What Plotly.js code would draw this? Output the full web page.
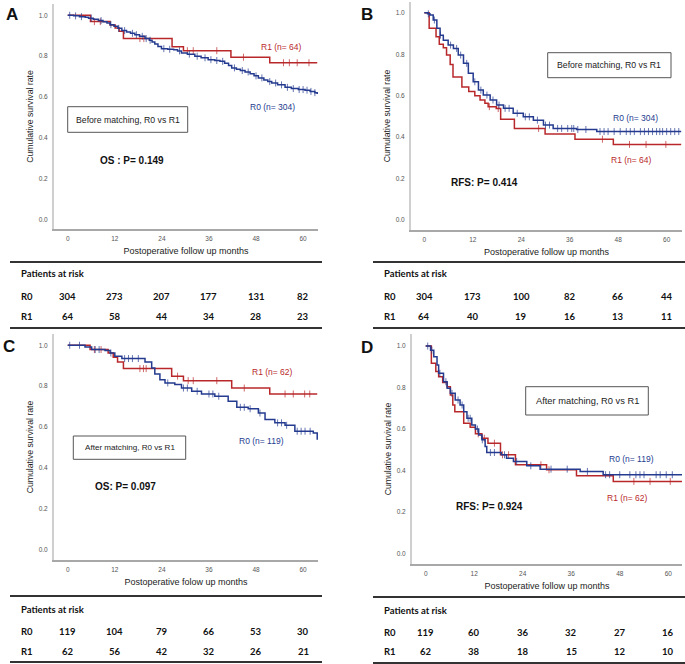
<!DOCTYPE html>
<html><head><meta charset="utf-8">
<script src="https://cdn.plot.ly/plotly-3.0.1.min.js"></script>
<style>html,body{margin:0;padding:0;background:#fff}#chart{width:685px;height:664px}</style>
</head><body><div id="chart"></div>
<script>
// ---------- DATA ----------
const monthTicks = [0, 12, 24, 36, 48, 60];
const survTicks = [0, 0.2, 0.4, 0.6, 0.8, 1.0];

// Panel A: OS before matching
const A_R0_t = [0, 1.5, 3, 4.5, 5.3, 6.5, 7.8, 9, 10, 10.8, 11.8, 12.8, 13.8, 15, 16, 17.1, 18.3, 19.7, 20.8, 21.5, 22.2, 23, 23.9, 25.5, 27, 28, 29, 30.5, 32.4, 34, 35.8, 37.5, 38.8, 40, 41, 41.8, 43, 44, 45.2, 46.5, 47.5, 48.6, 50, 51, 52, 53.5, 55.4, 57, 58.8, 60.5, 61.8, 63, 63.6];
const A_R0_s = [1, 0.997, 0.993, 0.99, 0.986, 0.98, 0.974, 0.968, 0.962, 0.954, 0.946, 0.936, 0.925, 0.918, 0.912, 0.905, 0.897, 0.886, 0.878, 0.87, 0.86, 0.848, 0.837, 0.834, 0.831, 0.826, 0.816, 0.81, 0.80, 0.792, 0.783, 0.779, 0.775, 0.765, 0.755, 0.743, 0.736, 0.73, 0.723, 0.714, 0.704, 0.694, 0.684, 0.676, 0.669, 0.66, 0.648, 0.642, 0.637, 0.634, 0.628, 0.622, 0.615];
const A_R0_cens = [0.5, 2, 3.5, 6, 8.5, 11, 13, 14.5, 16.5, 17.5, 19, 20, 21, 24.5, 26, 28.5, 31, 33, 35, 36.5, 38, 39.5, 42.5, 44.5, 46, 48, 49.5, 51.5, 53, 54.5, 56, 57.5, 59, 60, 61, 62, 63];
const A_R1_t = [0, 5.8, 10.8, 12.1, 13.1, 14.2, 26.6, 29.5, 41.6, 51.5, 63.6];
const A_R1_s = [1, 0.969, 0.953, 0.938, 0.922, 0.886, 0.846, 0.827, 0.795, 0.768, 0.768];
const A_R1_cens = [6.8, 8.3, 18.4, 19.4, 30.5, 32, 38, 44.8, 55, 56.5, 58.5, 61.5];

// Panel B: RFS before matching
const B_R0_t = [0, 0.8, 1.4, 2.2, 3.1, 3.9, 4.7, 5.9, 7.2, 8.4, 9.7, 10.9, 12.1, 13.4, 14.6, 16.3, 17.9, 19.6, 22.0, 24.5, 27.0, 29.5, 31.9, 37.7, 42.7, 63.6];
const B_R0_s = [1, 0.995, 0.989, 0.965, 0.925, 0.892, 0.868, 0.844, 0.828, 0.796, 0.756, 0.708, 0.667, 0.627, 0.603, 0.579, 0.555, 0.539, 0.515, 0.498, 0.482, 0.458, 0.442, 0.437, 0.427, 0.427];
const B_R0_cens = [1, 2.5, 4, 6.5, 8, 9, 10.5, 12.5, 14, 15.5, 17, 18.5, 20, 21, 23, 25, 26, 28, 30, 31, 33, 34, 35.5, 36.5, 37, 38, 40, 43.5, 44.5, 45.5, 47, 48.5, 50, 51, 52, 53.5, 54.5, 55.5, 56.5, 57.5, 58.3, 59, 60, 61, 62, 63];
const B_R1_t = [0, 1.2, 2.9, 3.7, 4.7, 5.5, 6.4, 7.1, 9.3, 11.0, 12.5, 13.8, 15.0, 15.8, 17.8, 18.9, 22.3, 29.9, 37.3, 46.8, 63.6];
const B_R1_s = [1, 0.925, 0.884, 0.848, 0.831, 0.796, 0.751, 0.690, 0.642, 0.620, 0.600, 0.579, 0.563, 0.547, 0.538, 0.486, 0.442, 0.415, 0.390, 0.365, 0.365];
const B_R1_cens = [16.1, 18.3, 28.3, 44.1, 50.8, 54.9, 59.8];

// Panel C: OS after matching
const C_R0_t = [0, 4.4, 6.1, 9.5, 10.8, 12.0, 13.8, 19.7, 21.4, 22.2, 23.5, 24.8, 27.3, 29.0, 31.6, 34.1, 37.5, 40.9, 43.1, 46.0, 48.6, 50.3, 52.8, 55.4, 57.9, 62.6, 63.6];
const C_R0_s = [1, 0.991, 0.979, 0.974, 0.962, 0.946, 0.935, 0.918, 0.889, 0.86, 0.832, 0.816, 0.808, 0.791, 0.775, 0.762, 0.751, 0.726, 0.697, 0.69, 0.669, 0.637, 0.621, 0.609, 0.58, 0.572, 0.539];
const C_R0_cens = [0.5, 3, 7, 8, 11, 14.5, 15.5, 16.5, 18, 25.5, 29.5, 30.5, 33, 36, 37, 38.5, 44, 45, 46.5, 49, 53.5, 54.5, 55.8, 58.5, 59.5, 60.5, 61.8];
const C_R1_t = [0, 5.7, 10.3, 11.6, 12.7, 14.2, 26.5, 29.5, 41.8, 51.5, 63.6];
const C_R1_s = [1, 0.979, 0.962, 0.941, 0.918, 0.886, 0.849, 0.827, 0.791, 0.762, 0.762];
const C_R1_cens = [6.8, 8.5, 18.4, 19.3, 20, 28, 30.7, 32, 38, 45, 55.4, 57.5, 60.4, 61.7];

// Panel D: RFS after matching
const D_R0_t = [0, 1.2, 2.0, 2.8, 3.2, 4.4, 5.3, 6.1, 7.3, 8.5, 9.4, 10.2, 11.4, 12.3, 13.1, 13.9, 14.7, 15.1, 18.7, 20.0, 21.7, 25.0, 28.3, 38.2, 43.9, 63.4];
const D_R0_s = [1, 0.98, 0.949, 0.909, 0.869, 0.828, 0.797, 0.772, 0.74, 0.716, 0.684, 0.652, 0.62, 0.60, 0.572, 0.548, 0.516, 0.487, 0.476, 0.460, 0.444, 0.423, 0.407, 0.396, 0.38, 0.38];
const D_R0_cens = [0.5, 1.5, 3.5, 5, 6.5, 8, 9, 10.5, 11, 12.8, 14, 16, 17, 19.5, 22.5, 26, 31, 35, 40, 44.5, 45.5, 48, 50.5, 52, 53, 54, 57, 58, 59.5, 61];
const D_R1_t = [0, 1.4, 2.5, 3.2, 4.2, 5.3, 6.1, 6.7, 7.2, 9.4, 11.0, 12.3, 13.9, 15.4, 18.5, 22.2, 29.9, 37.3, 46.4, 63.4];
const D_R1_s = [1, 0.917, 0.877, 0.852, 0.824, 0.804, 0.764, 0.716, 0.684, 0.628, 0.609, 0.577, 0.556, 0.532, 0.476, 0.428, 0.404, 0.375, 0.348, 0.348];
const D_R1_cens = [13, 14.5, 17, 19, 20.5, 28.5, 30.5, 51.5, 55.5, 60.5];

// Risk tables
const A_risk_R0 = [304, 273, 207, 177, 131, 82];
const A_risk_R1 = [64, 58, 44, 34, 28, 23];
const B_risk_R0 = [304, 173, 100, 82, 66, 44];
const B_risk_R1 = [64, 40, 19, 16, 13, 11];
const C_risk_R0 = [119, 104, 79, 66, 53, 30];
const C_risk_R1 = [62, 56, 42, 32, 26, 21];
const D_risk_R0 = [119, 60, 36, 32, 27, 16];
const D_risk_R1 = [62, 38, 18, 15, 12, 10];

// ---------- DRAWING ----------
const W = 685, H = 664;
const BLUE = '#243b8f', RED = '#b8282b';
const FONT = 'Liberation Sans, Arial, sans-serif';
const TFONT = 'Lato, Open Sans, sans-serif';
const px = (x) => x / W;
const py = (y) => 1 - y / H;

function survAt(ts, ss, t) {
  let s = ss[0];
  for (let i = 0; i < ts.length; i++) if (ts[i] <= t) s = ss[i];
  return s;
}

const panels = [
  {k: '', R0t: A_R0_t, R0s: A_R0_s, R0c: A_R0_cens, R1t: A_R1_t, R1s: A_R1_s, R1c: A_R1_cens,
   xd: [54, 318], yd: [4, 229], xr: [-3.5, 63.8], yr: [-0.044, 1.055], xt: 'Postoperative follow up months'},
  {k: '2', R0t: B_R0_t, R0s: B_R0_s, R0c: B_R0_cens, R1t: B_R1_t, R1s: B_R1_s, R1c: B_R1_cens,
   xd: [411, 682], yd: [2, 230], xr: [-3.3, 63.8], yr: [-0.048, 1.052], xt: 'Postoperative follow up months'},
  {k: '3', R0t: C_R0_t, R0s: C_R0_s, R0c: C_R0_cens, R1t: C_R1_t, R1s: C_R1_s, R1c: C_R1_cens,
   xd: [54, 318], yd: [334, 560], xr: [-3.5, 63.8], yr: [-0.049, 1.055], xt: 'Postoperative folow up months'},
  {k: '4', R0t: D_R0_t, R0s: D_R0_s, R0c: D_R0_cens, R1t: D_R1_t, R1s: D_R1_s, R1c: D_R1_cens,
   xd: [412, 682], yd: [334, 564], xr: [-3.39, 63.4], yr: [-0.05, 1.058], xt: 'Postoperative follow up months'}
];

const traces = [];
const layout = {
  width: W, height: H, margin: {l: 0, r: 0, t: 0, b: 0},
  paper_bgcolor: '#fff', plot_bgcolor: '#fff', showlegend: false,
  font: {family: FONT, color: '#222'},
  annotations: [], shapes: []
};

panels.forEach(p => {
  const xa = 'x' + p.k, ya = 'y' + p.k;
  const series = [
    [p.R1t, p.R1s, p.R1c, RED],
    [p.R0t, p.R0s, p.R0c, BLUE]
  ];
  series.forEach(([t, s, c, col]) => {
    traces.push({type: 'scatter', mode: 'lines', x: t, y: s, xaxis: xa, yaxis: ya,
      line: {shape: 'hv', color: col, width: 1.5}, hoverinfo: 'skip'});
    traces.push({type: 'scatter', mode: 'markers', x: c, y: c.map(v => survAt(t, s, v)),
      xaxis: xa, yaxis: ya, hoverinfo: 'skip',
      marker: {symbol: 'line-ns-open', size: 5, color: col, opacity: 0.7, line: {color: col, width: 1}}});
  });
  layout['xaxis' + p.k] = {
    domain: [px(p.xd[0]), px(p.xd[1])], range: p.xr, anchor: ya,
    showline: true, linecolor: '#a8a8a8', linewidth: 1.5, showgrid: false, zeroline: false,
    ticks: '', tickvals: monthTicks, ticklabelstandoff: 3,
    tickfont: {family: FONT, size: 6.5, color: '#555'},
    title: {text: p.xt, font: {family: FONT, size: 9, color: '#222'}, standoff: 6},
    automargin: false, fixedrange: true
  };
  layout['yaxis' + p.k] = {
    domain: [py(p.yd[1]), py(p.yd[0])], range: p.yr, anchor: xa,
    showline: true, linecolor: '#cfcfcf', linewidth: 2, showgrid: false, zeroline: false,
    ticks: '', tickvals: survTicks, tickformat: '.1f', ticklabelstandoff: 3,
    tickfont: {family: FONT, size: 6.5, color: '#555'},
    title: {text: 'Cumulative survival rate', font: {family: FONT, size: 8.7, color: '#222'}, standoff: 4},
    automargin: false, fixedrange: true
  };
});

function ann(text, x, y, opts) {
  layout.annotations.push(Object.assign({text: text, x: px(x), y: py(y), xref: 'paper', yref: 'paper',
    showarrow: false, xanchor: 'center', yanchor: 'middle'}, opts || {}));
}
function box(x0, y0, x1, y1) {
  layout.shapes.push({type: 'rect', xref: 'paper', yref: 'paper', x0: px(x0), x1: px(x1), y0: py(y1), y1: py(y0),
    line: {color: '#555', width: 1}, fillcolor: 'rgba(0,0,0,0)'});
}
function hline(x0, x1, y) {
  layout.shapes.push({type: 'line', xref: 'paper', yref: 'paper', x0: px(x0), x1: px(x1), y0: py(y), y1: py(y),
    line: {color: '#333', width: 2}});
}

// Panel letters
const letterFont = {family: FONT, size: 17, color: '#111', weight: 'bold'};
ann('<b>A</b>', 11.5, 14, {font: letterFont});
ann('<b>B</b>', 367.5, 14, {font: letterFont});
ann('<b>C</b>', 9, 347, {font: letterFont});
ann('<b>D</b>', 367, 347.5, {font: letterFont});

// Group labels
const gRed = (sz) => ({family: FONT, size: sz, color: RED});
const gBlue = (sz) => ({family: FONT, size: sz, color: BLUE});
ann('R1 (n= 64)', 281.7, 46.7, {font: gRed(8.5)});
ann('R0 (n= 304)', 272.3, 107.3, {font: gBlue(8.5)});
ann('R0 (n= 304)', 635, 118.3, {font: gBlue(8.5)});
ann('R1 (n= 64)', 631.7, 160, {font: gRed(8.5)});
ann('R1 (n= 62)', 272.3, 371.7, {font: gRed(8.5)});
ann('R0 (n= 119)', 261.7, 441, {font: gBlue(8.5)});
ann('R0 (n= 119)', 631, 459, {font: gBlue(8.5)});
ann('R1 (n= 62)', 627.3, 497.7, {font: gRed(8.5)});

// P values
const pFont = {family: FONT, size: 10, color: '#111'};
ann('<b>OS : P= 0.149</b>', 131.7, 160, {font: pFont});
ann('<b>RFS: P= 0.414</b>', 484, 182.7, {font: pFont});
ann('<b>OS: P= 0.097</b>', 125, 486.7, {font: pFont});
ann('<b>RFS: P= 0.924</b>', 489.3, 506, {font: pFont});

// Boxes
box(67.7, 106.7, 187.7, 132.3);
ann('Before matching, R0 vs R1', 127.7, 119.5, {font: {family: FONT, size: 8.7, color: '#222'}});
box(547.7, 52.7, 671, 77.7);
ann('Before matching, R0 vs R1', 609.3, 65.2, {font: {family: FONT, size: 8.7, color: '#222'}});
box(73.3, 436, 185.7, 459.3);
ann('After matching, R0 vs R1', 129.5, 447.7, {font: {family: FONT, size: 8.1, color: '#222'}});
box(525.7, 386.7, 648.3, 415);
ann('After matching, R0 vs R1', 587, 400.8, {font: {family: FONT, size: 9.3, color: '#222'}});

// Risk tables
const tabFont = {family: TFONT, size: 9.5, color: '#111', weight: 'bold'};
function table(xa, left, lineX0, lineX1, top, yPat, yR0, yR1, bottom, r0, r1) {
  hline(lineX0, lineX1, top);
  hline(lineX0, lineX1, bottom);
  ann('Patients at risk', left, yPat, {xanchor: 'left', font: tabFont});
  ann('R0', left, yR0, {xanchor: 'left', font: tabFont});
  ann('R1', left, yR1, {xanchor: 'left', font: tabFont});
  monthTicks.forEach((m, i) => {
    layout.annotations.push({text: String(r0[i]), x: m, xref: xa, y: py(yR0), yref: 'paper',
      showarrow: false, xanchor: 'center', yanchor: 'middle', font: tabFont});
    layout.annotations.push({text: String(r1[i]), x: m, xref: xa, y: py(yR1), yref: 'paper',
      showarrow: false, xanchor: 'center', yanchor: 'middle', font: tabFont});
  });
}
table('x', 19, 10, 322, 262, 273, 296, 317, 328, A_risk_R0, A_risk_R1);
table('x2', 382, 373, 685, 262, 273, 296, 317, 328, B_risk_R0, B_risk_R1);
table('x3', 19, 10, 322, 596, 609, 631.7, 651.7, 662, C_risk_R0, C_risk_R1);
table('x4', 382, 373, 685, 597, 610, 632.7, 651.7, 663, D_risk_R0, D_risk_R1);

Plotly.newPlot('chart', traces, layout, {staticPlot: true, displayModeBar: false});
</script></body></html>
